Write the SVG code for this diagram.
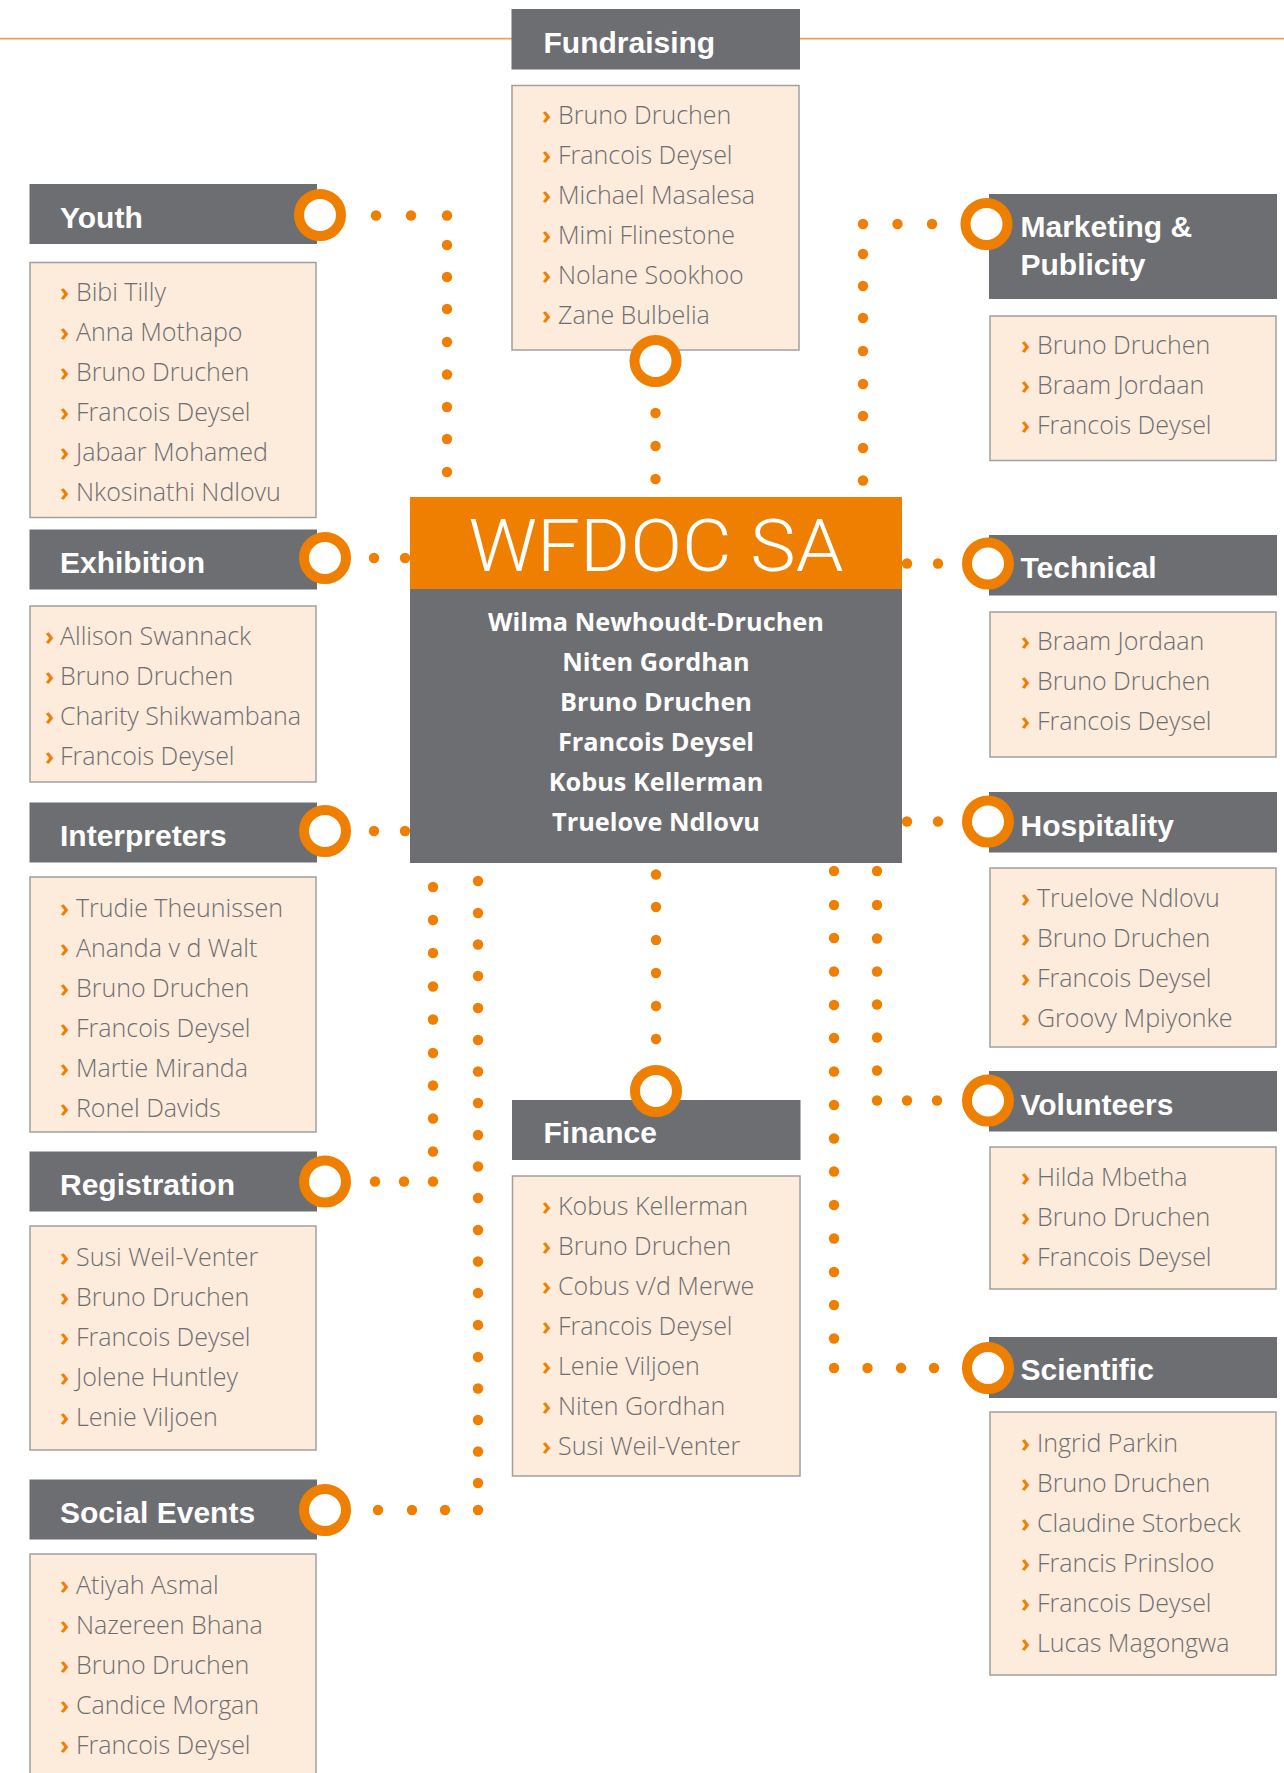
<svg xmlns="http://www.w3.org/2000/svg" width="1284" height="1773" viewBox="0 0 1284 1773">
<style>
.hdr{fill:#6D6E71}
.bx{fill:#FDEBDB;stroke:#A0A0A0;stroke-width:1.5}
.ht{font-family:'Liberation Sans',Arial,sans-serif;font-weight:bold;font-size:30px;fill:#FFFFFF}
.li{font-family:'Open Sans','Noto Sans',sans-serif;font-weight:300;font-size:25px;fill:#6D6E71}
.ch{fill:#EE7F00;font-weight:700}
.ring{fill:#FFFFFF;stroke:#EE7F00;stroke-width:10}
.dot{fill:#EE7F00}
.cn{font-family:'Open Sans','Noto Sans',sans-serif;font-weight:700;font-size:25.3px;fill:#FFFFFF;text-anchor:middle}
</style>
<rect width="1284" height="1773" fill="#FFFFFF"/>
<line x1="0" y1="38.7" x2="1284" y2="38.7" stroke="#F5A04A" stroke-width="1.7"/>
<g id="connectors">
<!-- Youth -->
<circle class="dot" cx="376" cy="215.5" r="5.2"/><circle class="dot" cx="411" cy="215.5" r="5.2"/><circle class="dot" cx="447" cy="215.5" r="5.2"/>
<circle class="dot" cx="447" cy="245" r="5.2"/><circle class="dot" cx="447" cy="277" r="5.2"/><circle class="dot" cx="447" cy="309" r="5.2"/><circle class="dot" cx="447" cy="342" r="5.2"/><circle class="dot" cx="447" cy="374.5" r="5.2"/><circle class="dot" cx="447" cy="407" r="5.2"/><circle class="dot" cx="447" cy="439" r="5.2"/><circle class="dot" cx="447" cy="472" r="5.2"/>
<!-- Fundraising -->
<circle class="dot" cx="655.5" cy="413" r="5.2"/><circle class="dot" cx="655.5" cy="446" r="5.2"/><circle class="dot" cx="655.5" cy="479" r="5.2"/>
<!-- Marketing -->
<circle class="dot" cx="863" cy="224" r="5.2"/><circle class="dot" cx="897.5" cy="224" r="5.2"/><circle class="dot" cx="932" cy="224" r="5.2"/>
<circle class="dot" cx="863" cy="254" r="5.2"/><circle class="dot" cx="863" cy="286" r="5.2"/><circle class="dot" cx="863" cy="318" r="5.2"/><circle class="dot" cx="863" cy="351" r="5.2"/><circle class="dot" cx="863" cy="384" r="5.2"/><circle class="dot" cx="863" cy="416" r="5.2"/><circle class="dot" cx="863" cy="448" r="5.2"/><circle class="dot" cx="863" cy="480.5" r="5.2"/>
<!-- Exhibition / Interpreters -->
<circle class="dot" cx="374" cy="558" r="5.2"/><circle class="dot" cx="405" cy="558" r="5.2"/>
<circle class="dot" cx="374" cy="831" r="5.2"/><circle class="dot" cx="405" cy="831" r="5.2"/>
<!-- Technical / Hospitality -->
<circle class="dot" cx="907" cy="563.5" r="5.2"/><circle class="dot" cx="938" cy="563.5" r="5.2"/>
<circle class="dot" cx="907" cy="821.5" r="5.2"/><circle class="dot" cx="938" cy="821.5" r="5.2"/>
<!-- Registration -->
<circle class="dot" cx="433" cy="887" r="5.2"/><circle class="dot" cx="433" cy="920" r="5.2"/><circle class="dot" cx="433" cy="953" r="5.2"/><circle class="dot" cx="433" cy="986.5" r="5.2"/><circle class="dot" cx="433" cy="1019.5" r="5.2"/><circle class="dot" cx="433" cy="1053" r="5.2"/><circle class="dot" cx="433" cy="1085.5" r="5.2"/><circle class="dot" cx="433" cy="1118.5" r="5.2"/><circle class="dot" cx="433" cy="1151.5" r="5.2"/><circle class="dot" cx="433" cy="1181.5" r="5.2"/>
<circle class="dot" cx="404" cy="1181.5" r="5.2"/><circle class="dot" cx="375" cy="1181.5" r="5.2"/>
<!-- Social Events -->
<circle class="dot" cx="478" cy="881" r="5.2"/><circle class="dot" cx="478" cy="913" r="5.2"/><circle class="dot" cx="478" cy="944.5" r="5.2"/><circle class="dot" cx="478" cy="976" r="5.2"/><circle class="dot" cx="478" cy="1008" r="5.2"/><circle class="dot" cx="478" cy="1040" r="5.2"/><circle class="dot" cx="478" cy="1071.5" r="5.2"/><circle class="dot" cx="478" cy="1103" r="5.2"/><circle class="dot" cx="478" cy="1135" r="5.2"/><circle class="dot" cx="478" cy="1166.5" r="5.2"/><circle class="dot" cx="478" cy="1198" r="5.2"/><circle class="dot" cx="478" cy="1230" r="5.2"/><circle class="dot" cx="478" cy="1261.5" r="5.2"/><circle class="dot" cx="478" cy="1293" r="5.2"/><circle class="dot" cx="478" cy="1325" r="5.2"/><circle class="dot" cx="478" cy="1357" r="5.2"/><circle class="dot" cx="478" cy="1388.5" r="5.2"/><circle class="dot" cx="478" cy="1420" r="5.2"/><circle class="dot" cx="478" cy="1451.5" r="5.2"/><circle class="dot" cx="478" cy="1483" r="5.2"/><circle class="dot" cx="478" cy="1510" r="5.2"/>
<circle class="dot" cx="445" cy="1510" r="5.2"/><circle class="dot" cx="412" cy="1510" r="5.2"/><circle class="dot" cx="378" cy="1510" r="5.2"/>
<!-- Finance -->
<circle class="dot" cx="656" cy="874.5" r="5.2"/><circle class="dot" cx="656" cy="907" r="5.2"/><circle class="dot" cx="656" cy="940" r="5.2"/><circle class="dot" cx="656" cy="973" r="5.2"/><circle class="dot" cx="656" cy="1006" r="5.2"/><circle class="dot" cx="656" cy="1039" r="5.2"/>
<!-- Scientific -->
<circle class="dot" cx="834" cy="871" r="5.2"/><circle class="dot" cx="834" cy="905" r="5.2"/><circle class="dot" cx="834" cy="938" r="5.2"/><circle class="dot" cx="834" cy="971.5" r="5.2"/><circle class="dot" cx="834" cy="1005" r="5.2"/><circle class="dot" cx="834" cy="1038" r="5.2"/><circle class="dot" cx="834" cy="1071.5" r="5.2"/><circle class="dot" cx="834" cy="1105" r="5.2"/><circle class="dot" cx="834" cy="1138.5" r="5.2"/><circle class="dot" cx="834" cy="1171.5" r="5.2"/><circle class="dot" cx="834" cy="1205" r="5.2"/><circle class="dot" cx="834" cy="1238.5" r="5.2"/><circle class="dot" cx="834" cy="1272" r="5.2"/><circle class="dot" cx="834" cy="1305" r="5.2"/><circle class="dot" cx="834" cy="1338.5" r="5.2"/><circle class="dot" cx="834" cy="1368" r="5.2"/>
<circle class="dot" cx="867.5" cy="1368" r="5.2"/><circle class="dot" cx="901" cy="1368" r="5.2"/><circle class="dot" cx="934" cy="1368" r="5.2"/>
<!-- Volunteers -->
<circle class="dot" cx="877" cy="871" r="5.2"/><circle class="dot" cx="877" cy="905" r="5.2"/><circle class="dot" cx="877" cy="938.5" r="5.2"/><circle class="dot" cx="877" cy="971.5" r="5.2"/><circle class="dot" cx="877" cy="1004.5" r="5.2"/><circle class="dot" cx="877" cy="1037.5" r="5.2"/><circle class="dot" cx="877" cy="1070.5" r="5.2"/><circle class="dot" cx="877" cy="1100.5" r="5.2"/>
<circle class="dot" cx="907" cy="1100.5" r="5.2"/><circle class="dot" cx="937" cy="1100.5" r="5.2"/>
</g>

<g id="wfdoc">
<rect x="410" y="497" width="492" height="92" fill="#EE7F00"/>
<rect x="410" y="589" width="492" height="274" fill="#6D6E71"/>
<text x="656" y="571" text-anchor="middle" font-family="Roboto,'Open Sans',sans-serif" font-weight="300" font-size="72" fill="#FFFFFF" textLength="375" lengthAdjust="spacingAndGlyphs">WFDOC SA</text>
<text class="cn" x="656" y="630.7">Wilma Newhoudt-Druchen</text>
<text class="cn" x="656" y="670.7">Niten Gordhan</text>
<text class="cn" x="656" y="710.7">Bruno Druchen</text>
<text class="cn" x="656" y="750.7">Francois Deysel</text>
<text class="cn" x="656" y="790.7">Kobus Kellerman</text>
<text class="cn" x="656" y="830.7">Truelove Ndlovu</text>
</g>

<g id="youth">
<rect class="hdr" x="29.5" y="184" width="287.5" height="60"/>
<text class="ht" x="60" y="227.5">Youth</text>
<circle class="ring" cx="320" cy="215" r="21"/>
<rect class="bx" x="30" y="262.5" width="286" height="255"/>
<text class="li" y="300.7"><tspan class="ch" x="60">›</tspan><tspan x="76">Bibi Tilly</tspan></text>
<text class="li" y="340.7"><tspan class="ch" x="60">›</tspan><tspan x="76">Anna Mothapo</tspan></text>
<text class="li" y="380.7"><tspan class="ch" x="60">›</tspan><tspan x="76">Bruno Druchen</tspan></text>
<text class="li" y="420.7"><tspan class="ch" x="60">›</tspan><tspan x="76">Francois Deysel</tspan></text>
<text class="li" y="460.7"><tspan class="ch" x="60">›</tspan><tspan x="76">Jabaar Mohamed</tspan></text>
<text class="li" y="500.7"><tspan class="ch" x="60">›</tspan><tspan x="76">Nkosinathi Ndlovu</tspan></text>
</g>

<g id="exhibition">
<rect class="hdr" x="29.5" y="529.5" width="287.5" height="60"/>
<text class="ht" x="60" y="573">Exhibition</text>
<circle class="ring" cx="325" cy="558" r="21"/>
<rect class="bx" x="30" y="606" width="286" height="176"/>
<text class="li" y="645"><tspan class="ch" x="45">›</tspan><tspan x="60">Allison Swannack</tspan></text>
<text class="li" y="685"><tspan class="ch" x="45">›</tspan><tspan x="60">Bruno Druchen</tspan></text>
<text class="li" y="725"><tspan class="ch" x="45">›</tspan><tspan x="60">Charity Shikwambana</tspan></text>
<text class="li" y="765"><tspan class="ch" x="45">›</tspan><tspan x="60">Francois Deysel</tspan></text>
</g>

<g id="interpreters">
<rect class="hdr" x="29.5" y="802.5" width="287.5" height="60"/>
<text class="ht" x="60" y="846">Interpreters</text>
<circle class="ring" cx="325" cy="831" r="21"/>
<rect class="bx" x="30" y="877" width="286" height="255"/>
<text class="li" y="917"><tspan class="ch" x="60">›</tspan><tspan x="76">Trudie Theunissen</tspan></text>
<text class="li" y="957"><tspan class="ch" x="60">›</tspan><tspan x="76">Ananda v d Walt</tspan></text>
<text class="li" y="997"><tspan class="ch" x="60">›</tspan><tspan x="76">Bruno Druchen</tspan></text>
<text class="li" y="1037"><tspan class="ch" x="60">›</tspan><tspan x="76">Francois Deysel</tspan></text>
<text class="li" y="1077"><tspan class="ch" x="60">›</tspan><tspan x="76">Martie Miranda</tspan></text>
<text class="li" y="1117"><tspan class="ch" x="60">›</tspan><tspan x="76">Ronel Davids</tspan></text>
</g>

<g id="registration">
<rect class="hdr" x="29.5" y="1151.5" width="287.5" height="60"/>
<text class="ht" x="60" y="1195">Registration</text>
<circle class="ring" cx="325" cy="1181.5" r="21"/>
<rect class="bx" x="30" y="1226" width="286" height="224"/>
<text class="li" y="1266"><tspan class="ch" x="60">›</tspan><tspan x="76">Susi Weil-Venter</tspan></text>
<text class="li" y="1306"><tspan class="ch" x="60">›</tspan><tspan x="76">Bruno Druchen</tspan></text>
<text class="li" y="1346"><tspan class="ch" x="60">›</tspan><tspan x="76">Francois Deysel</tspan></text>
<text class="li" y="1386"><tspan class="ch" x="60">›</tspan><tspan x="76">Jolene Huntley</tspan></text>
<text class="li" y="1426"><tspan class="ch" x="60">›</tspan><tspan x="76">Lenie Viljoen</tspan></text>
</g>

<g id="social-events">
<rect class="hdr" x="29.5" y="1479.5" width="287.5" height="60"/>
<text class="ht" x="60" y="1523">Social Events</text>
<circle class="ring" cx="325" cy="1510" r="21"/>
<rect class="bx" x="30" y="1554" width="286" height="240"/>
<text class="li" y="1593.6"><tspan class="ch" x="60">›</tspan><tspan x="76">Atiyah Asmal</tspan></text>
<text class="li" y="1633.6"><tspan class="ch" x="60">›</tspan><tspan x="76">Nazereen Bhana</tspan></text>
<text class="li" y="1673.6"><tspan class="ch" x="60">›</tspan><tspan x="76">Bruno Druchen</tspan></text>
<text class="li" y="1713.6"><tspan class="ch" x="60">›</tspan><tspan x="76">Candice Morgan</tspan></text>
<text class="li" y="1753.6"><tspan class="ch" x="60">›</tspan><tspan x="76">Francois Deysel</tspan></text>
</g>

<g id="fundraising">
<rect class="hdr" x="511.5" y="9" width="288.5" height="60.5"/>
<text class="ht" x="543.5" y="52.5">Fundraising</text>
<rect class="bx" x="512" y="85.5" width="287" height="264.5"/>
<text class="li" y="124"><tspan class="ch" x="542">›</tspan><tspan x="558">Bruno Druchen</tspan></text>
<text class="li" y="164"><tspan class="ch" x="542">›</tspan><tspan x="558">Francois Deysel</tspan></text>
<text class="li" y="204"><tspan class="ch" x="542">›</tspan><tspan x="558">Michael Masalesa</tspan></text>
<text class="li" y="244"><tspan class="ch" x="542">›</tspan><tspan x="558">Mimi Flinestone</tspan></text>
<text class="li" y="284"><tspan class="ch" x="542">›</tspan><tspan x="558">Nolane Sookhoo</tspan></text>
<text class="li" y="324"><tspan class="ch" x="542">›</tspan><tspan x="558">Zane Bulbelia</tspan></text>
<circle class="ring" cx="655.5" cy="361" r="21"/>
</g>

<g id="finance">
<rect class="hdr" x="512" y="1100" width="288.5" height="60"/>
<text class="ht" x="543.5" y="1143">Finance</text>
<circle class="ring" cx="656" cy="1091" r="21"/>
<rect class="bx" x="512.5" y="1176" width="287.5" height="300"/>
<text class="li" y="1215"><tspan class="ch" x="542">›</tspan><tspan x="558">Kobus Kellerman</tspan></text>
<text class="li" y="1255"><tspan class="ch" x="542">›</tspan><tspan x="558">Bruno Druchen</tspan></text>
<text class="li" y="1295"><tspan class="ch" x="542">›</tspan><tspan x="558">Cobus v/d Merwe</tspan></text>
<text class="li" y="1335"><tspan class="ch" x="542">›</tspan><tspan x="558">Francois Deysel</tspan></text>
<text class="li" y="1375"><tspan class="ch" x="542">›</tspan><tspan x="558">Lenie Viljoen</tspan></text>
<text class="li" y="1415"><tspan class="ch" x="542">›</tspan><tspan x="558">Niten Gordhan</tspan></text>
<text class="li" y="1455"><tspan class="ch" x="542">›</tspan><tspan x="558">Susi Weil-Venter</tspan></text>
</g>

<g id="marketing-publicity">
<rect class="hdr" x="989" y="194" width="288" height="105"/>
<text class="ht" x="1020.5" y="237">Marketing &amp;</text>
<text class="ht" x="1020.5" y="275">Publicity</text>
<circle class="ring" cx="986.5" cy="224" r="21"/>
<rect class="bx" x="990" y="316" width="286" height="144.5"/>
<text class="li" y="354"><tspan class="ch" x="1021">›</tspan><tspan x="1037">Bruno Druchen</tspan></text>
<text class="li" y="394"><tspan class="ch" x="1021">›</tspan><tspan x="1037">Braam Jordaan</tspan></text>
<text class="li" y="434"><tspan class="ch" x="1021">›</tspan><tspan x="1037">Francois Deysel</tspan></text>
</g>

<g id="technical">
<rect class="hdr" x="989" y="535" width="288" height="60.5"/>
<text class="ht" x="1020.5" y="577.5">Technical</text>
<circle class="ring" cx="988" cy="563.5" r="21"/>
<rect class="bx" x="990" y="612" width="286" height="145"/>
<text class="li" y="650"><tspan class="ch" x="1021">›</tspan><tspan x="1037">Braam Jordaan</tspan></text>
<text class="li" y="690"><tspan class="ch" x="1021">›</tspan><tspan x="1037">Bruno Druchen</tspan></text>
<text class="li" y="730"><tspan class="ch" x="1021">›</tspan><tspan x="1037">Francois Deysel</tspan></text>
</g>

<g id="hospitality">
<rect class="hdr" x="989" y="792" width="288" height="60.5"/>
<text class="ht" x="1020.5" y="835.5">Hospitality</text>
<circle class="ring" cx="988" cy="821.5" r="21"/>
<rect class="bx" x="990" y="868" width="286" height="179"/>
<text class="li" y="907"><tspan class="ch" x="1021">›</tspan><tspan x="1037">Truelove Ndlovu</tspan></text>
<text class="li" y="947"><tspan class="ch" x="1021">›</tspan><tspan x="1037">Bruno Druchen</tspan></text>
<text class="li" y="987"><tspan class="ch" x="1021">›</tspan><tspan x="1037">Francois Deysel</tspan></text>
<text class="li" y="1027"><tspan class="ch" x="1021">›</tspan><tspan x="1037">Groovy Mpiyonke</tspan></text>
</g>

<g id="volunteers">
<rect class="hdr" x="989" y="1071" width="288" height="60.5"/>
<text class="ht" x="1020.5" y="1114.5">Volunteers</text>
<circle class="ring" cx="988" cy="1100.5" r="21"/>
<rect class="bx" x="990" y="1147" width="286" height="142"/>
<text class="li" y="1186"><tspan class="ch" x="1021">›</tspan><tspan x="1037">Hilda Mbetha</tspan></text>
<text class="li" y="1226"><tspan class="ch" x="1021">›</tspan><tspan x="1037">Bruno Druchen</tspan></text>
<text class="li" y="1266"><tspan class="ch" x="1021">›</tspan><tspan x="1037">Francois Deysel</tspan></text>
</g>

<g id="scientific">
<rect class="hdr" x="989" y="1337" width="288" height="61"/>
<text class="ht" x="1020.5" y="1380">Scientific</text>
<circle class="ring" cx="988" cy="1368" r="21"/>
<rect class="bx" x="990" y="1412" width="286" height="263"/>
<text class="li" y="1452"><tspan class="ch" x="1021">›</tspan><tspan x="1037">Ingrid Parkin</tspan></text>
<text class="li" y="1492"><tspan class="ch" x="1021">›</tspan><tspan x="1037">Bruno Druchen</tspan></text>
<text class="li" y="1532"><tspan class="ch" x="1021">›</tspan><tspan x="1037">Claudine  Storbeck</tspan></text>
<text class="li" y="1572"><tspan class="ch" x="1021">›</tspan><tspan x="1037">Francis Prinsloo</tspan></text>
<text class="li" y="1612"><tspan class="ch" x="1021">›</tspan><tspan x="1037">Francois Deysel</tspan></text>
<text class="li" y="1652"><tspan class="ch" x="1021">›</tspan><tspan x="1037">Lucas Magongwa</tspan></text>
</g>
</svg>
